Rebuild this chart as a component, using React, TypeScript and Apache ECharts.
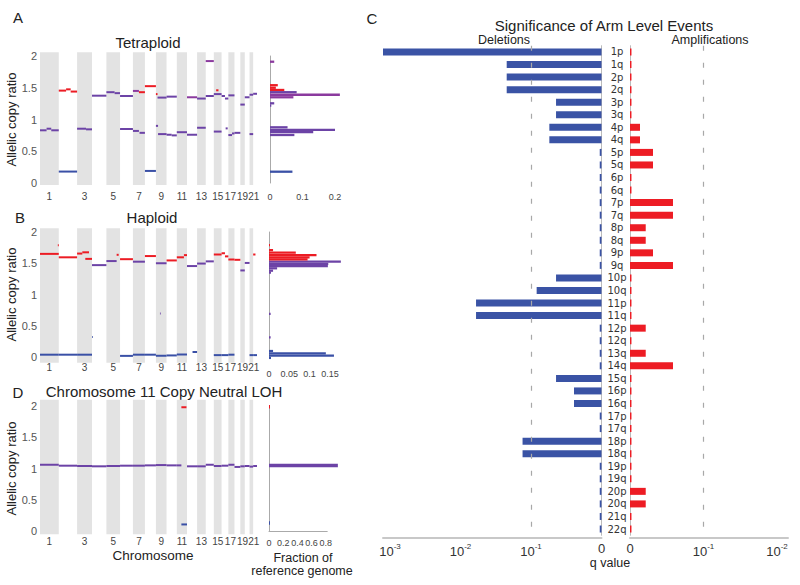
import React, { useEffect, useRef } from 'react';
import * as echarts from 'echarts';

// hg19 chromosome lengths (Mb), chromosomes 1..22
const chromLengths = [249, 243, 198, 191, 181, 171, 159, 146, 141, 136, 135, 134, 115, 107, 103, 90, 81, 78, 59, 63, 48, 51];
const chromTickLabels = ['1', '', '3', '', '5', '', '7', '', '9', '', '11', '', '13', '', '15', '', '17', '', '19', '', '21', ''];

// [chromosome, start fraction, end fraction, allelic copy ratio, allele]
type Seg = [number, number, number, number, string];
const tetraploidSegments: Seg[] = [
  [1, 0, 0.35, 0.83, 'P'], [1, 0.35, 0.6, 0.855, 'P'], [1, 0.6, 1, 0.83, 'P'],
  [2, 0, 0.4, 1.455, 'R'], [2, 0.4, 0.65, 1.475, 'R'], [2, 0.65, 1, 1.44, 'R'], [2, 0, 1, 0.18, 'B'],
  [3, 0, 0.6, 0.855, 'P'], [3, 0.6, 1, 0.845, 'P'],
  [4, 0, 1, 1.375, 'P'],
  [5, 0, 0.6, 1.43, 'P'], [5, 0.6, 1, 1.415, 'P'],
  [6, 0, 1, 1.37, 'P'], [6, 0, 1, 0.85, 'P'],
  [7, 0, 0.5, 1.45, 'M'], [7, 0.5, 1, 1.43, 'R'], [7, 0, 0.5, 0.82, 'P'], [7, 0.55, 1, 0.79, 'P'],
  [8, 0, 1, 1.525, 'R'], [8, 0, 1, 0.19, 'B'],
  [9, 0, 0.15, 1.4, 'R'], [9, 0.15, 1, 1.345, 'P'], [9, 0, 0.2, 0.9, 'P'], [9, 0.2, 1, 0.77, 'P'],
  [10, 0, 1, 1.36, 'P'], [10, 0, 0.5, 0.76, 'P'], [10, 0.5, 1, 0.75, 'P'],
  [11, 0, 1, 0.8, 'P'],
  [12, 0, 1, 1.35, 'M'], [12, 0, 1, 0.76, 'P'],
  [13, 0, 1, 1.33, 'P'], [13, 0, 1, 0.87, 'P'],
  [14, 0, 1, 1.37, 'P'], [14, 0, 1, 1.92, 'M'],
  [15, 0, 1, 1.4, 'P'], [15, 0.3, 0.6, 1.46, 'R'], [15, 0, 1, 0.81, 'P'],
  [16, 0, 0.5, 1.37, 'P'], [16, 0.5, 1, 1.33, 'P'], [16, 0.6, 0.9, 0.86, 'P'],
  [17, 0, 1, 1.38, 'P'], [17, 0, 0.6, 0.755, 'P'], [17, 0.6, 1, 0.78, 'P'],
  [18, 0, 1, 0.79, 'P'],
  [19, 0, 1, 1.235, 'P'],
  [20, 0, 1, 1.35, 'P'],
  [21, 0, 1, 1.39, 'P'], [21, 0, 1, 0.77, 'P'],
  [22, 0, 1, 1.405, 'P'],
];
const haploidSegments: Seg[] = [
  [1, 0, 1, 1.65, 'R'], [1, 0.95, 1, 1.79, 'R'], [1, 0, 1, 0.037, 'B'],
  [2, 0, 1, 1.595, 'R'], [2, 0, 1, 0.037, 'B'],
  [3, 0, 0.35, 1.655, 'R'], [3, 0.35, 0.8, 1.675, 'R'], [3, 0.55, 1, 1.57, 'R'], [3, 0, 1, 0.037, 'B'],
  [4, 0, 1, 1.47, 'P'], [4, 0, 0.05, 0.32, 'B'],
  [5, 0, 0.75, 1.535, 'P'], [5, 0.75, 0.9, 1.635, 'R'],
  [6, 0, 1, 1.565, 'R'], [6, 0, 1, 0.018, 'B'],
  [7, 0, 1, 1.525, 'P'], [7, 0, 1, 0.037, 'B'],
  [8, 0, 1, 1.615, 'R'], [8, 0, 1, 0.037, 'B'],
  [9, 0, 1, 1.5, 'P'], [9, 0.38, 0.45, 0.695, 'P'], [9, 0, 1, 0.02, 'B'],
  [10, 0, 1, 1.545, 'R'], [10, 0, 1, 0.025, 'B'],
  [11, 0, 0.7, 1.595, 'R'], [11, 0.7, 1, 1.63, 'R'], [11, 0, 1, 0.04, 'B'],
  [12, 0, 1, 1.455, 'P'], [12, 0.55, 1, 0.08, 'B'],
  [13, 0, 1, 1.495, 'P'],
  [14, 0, 1, 1.53, 'P'],
  [15, 0, 1, 1.64, 'R'], [15, 0, 1, 0.03, 'B'],
  [16, 0, 0.5, 1.66, 'R'], [16, 0.5, 1, 1.61, 'R'], [16, 0, 1, 0.03, 'B'],
  [17, 0, 1, 1.56, 'R'], [17, 0, 1, 0.037, 'B'],
  [18, 0, 1, 1.555, 'R'],
  [19, 0, 1, 1.385, 'P'],
  [20, 0, 1, 1.505, 'P'],
  [21, 0, 1, 0.03, 'B'],
  [22, 0, 0.6, 1.64, 'R'], [22, 0, 1, 0.03, 'B'],
];
const lohSegments: Seg[] = [
  [1, 0, 1, 1.06, 'P'], [2, 0, 1, 1.045, 'P'], [3, 0, 1, 1.04, 'P'], [4, 0, 1, 1.035, 'P'],
  [5, 0, 1, 1.04, 'P'], [6, 0, 1, 1.045, 'P'], [7, 0, 1, 1.045, 'P'], [8, 0, 1, 1.05, 'P'],
  [9, 0, 1, 1.055, 'P'], [10, 0, 1, 1.05, 'P'], [11, 0, 0.45, 1.05, 'P'],
  [11, 0.45, 0.95, 1.98, 'R'], [11, 0.45, 1, 0.105, 'B'],
  [12, 0, 1, 1.035, 'P'], [13, 0, 1, 1.035, 'P'], [14, 0, 1, 1.06, 'P'], [15, 0, 1, 1.04, 'P'],
  [16, 0, 1, 1.045, 'P'], [17, 0, 1, 1.06, 'P'], [18, 0, 1, 1.025, 'P'], [19, 0, 1, 1.035, 'P'],
  [20, 0, 1, 1.04, 'P'], [21, 0, 1, 1.03, 'P'], [22, 0, 1, 1.04, 'P'],
];

// [allelic copy ratio bin centre, fraction of reference genome, allele]
type Bin = [number, number, string];
const tetraploidHist: Bin[] = [
  [1.91, 0.013, 'M'], [1.54, 0.024, 'R'], [1.5, 0.018, 'R'], [1.465, 0.044, 'R'],
  [1.43, 0.082, 'P'], [1.39, 0.215, 'M'], [1.35, 0.072, 'M'], [1.255, 0.013, 'P'], [1.22, 0.004, 'P'],
  [0.877, 0.054, 'P'], [0.835, 0.2, 'P'], [0.8, 0.133, 'P'], [0.756, 0.075, 'P'], [0.178, 0.069, 'B'],
];
const haploidHist: Bin[] = [
  [1.79, 0.002, 'R'], [1.71, 0.01, 'R'], [1.67, 0.066, 'R'], [1.632, 0.117, 'R'], [1.595, 0.1, 'R'],
  [1.525, 0.177, 'P'], [1.563, 0.095, 'R'], [1.49, 0.146, 'P'], [1.456, 0.145, 'P'], [1.419, 0.02, 'P'],
  [1.381, 0.01, 'P'], [1.35, 0.005, 'P'], [0.69, 0.004, 'P'], [0.315, 0.004, 'P'],
  [0.096, 0.01, 'B'], [0.06, 0.14, 'B'], [0.022, 0.16, 'B'], [-0.015, 0.005, 'B'],
];
const lohHist: Bin[] = [[1.99, 0.004, 'R'], [1.05, 0.97, 'P'], [0.13, 0.004, 'B']];

// Panel C: -log10(q value) per chromosome arm
const arms = ['1p', '1q', '2p', '2q', '3p', '3q', '4p', '4q', '5p', '5q', '6p', '6q', '7p', '7q', '8p', '8q', '9p', '9q',
  '10p', '10q', '11p', '11q', '12p', '12q', '13q', '14q', '15q', '16p', '16q', '17p', '17q', '18p', '18q', '19p', '19q',
  '20p', '20q', '21q', '22q'];
const deletionScore = [3.1, 1.345, 1.345, 1.345, 0.645, 0.645, 0.74, 0.74, 0.025, 0.025, 0.025, 0.025, 0.025, 0.025, 0.025, 0.025, 0.025, 0.025,
  0.645, 0.92, 1.78, 1.78, 0.025, 0.025, 0.025, 0.025, 0.645, 0.39, 0.39, 0.025, 0.025, 1.12, 1.12, 0.025, 0.025,
  0.025, 0.025, 0.025, 0.025];
const amplificationScore = [0.02, 0.02, 0.02, 0.02, 0.02, 0.02, 0.136, 0.136, 0.313, 0.313, 0.02, 0.02, 0.585, 0.585, 0.214, 0.214, 0.313, 0.585,
  0.02, 0.02, 0.02, 0.02, 0.214, 0.02, 0.214, 0.585, 0.02, 0.02, 0.02, 0.02, 0.02, 0.02, 0.02, 0.02, 0.02,
  0.214, 0.214, 0.02, 0.02];

const COLORS: Record<string, string> = { R: '#ec1c24', P: '#6c43a6', M: '#8b3a9e', B: '#3a50a6' };
const FONT = 'Liberation Sans, Arial, sans-serif';
// small horizontal nudges so the crowded labels of the short chromosomes do not collide
const LABEL_NUDGE: Record<number, number> = { 16: -1, 20: 2.5 };

const offsets: number[] = [];
let acc = 0;
chromLengths.forEach((l) => { offsets.push(acc); acc += l; });
const genomeLength = acc;

function segRows(segs: Seg[]) {
  return segs.map(([c, f0, f1, v]) => [offsets[c - 1] + f0 * chromLengths[c - 1], offsets[c - 1] + f1 * chromLengths[c - 1], v]);
}

function txt(text: string, x: number, y: number, size: number, color = '#222', family = FONT) {
  return {
    type: 'text', x, y, silent: true,
    style: { text, fill: color, fontSize: size, fontFamily: family, align: 'center', verticalAlign: 'middle', textAlign: 'center', textVerticalAlign: 'middle' },
  };
}

function buildOption() {
  const panels = [
    { top: 56, height: 127, band: [2.06, -0.03], labelDy: 13, hMax: 0.215, hInt: 0.1, hHalf: 0.018, hLeft: 270, hMargin: 9, hLine: false, hOffset: 0, segs: tetraploidSegments, hist: tetraploidHist },
    { top: 232, height: 125, band: [2.06, -0.09], labelDy: 10, hMax: 0.175, hInt: 0.05, hHalf: 0.018, hLeft: 269, hMargin: 12, hLine: false, hOffset: 0, segs: haploidSegments, hist: haploidHist },
    { top: 406, height: 125, band: [2.1, -0.05], labelDy: 10, hMax: 0.82, hInt: 0.2, hHalf: 0.028, hLeft: 269, hMargin: 0, hLine: true, hOffset: 7, segs: lohSegments, hist: lohHist },
  ];
  const histScale = [325, 406, 71];

  const grid: any[] = [];
  const xAxis: any[] = [];
  const yAxis: any[] = [];
  const series: any[] = [];

  panels.forEach((p, k) => {
    const gi = grid.length;
    grid.push({ left: 40, top: p.top, width: 217, height: p.height });
    grid.push({ left: p.hLeft, top: p.top, width: histScale[k] * p.hMax, height: p.height });
    xAxis.push({ gridIndex: gi, type: 'value', min: 0, max: genomeLength, show: false });
    xAxis.push({
      gridIndex: gi + 1, type: 'value', min: 0, max: p.hMax, interval: p.hInt, offset: p.hOffset,
      axisLine: { show: p.hLine, lineStyle: { color: '#aaa', width: 1 } }, axisTick: { show: false }, splitLine: { show: false },
      axisLabel: { showMaxLabel: false, margin: p.hMargin, fontSize: 9, lineHeight: 10, color: '#444', fontFamily: FONT },
    });
    yAxis.push({
      gridIndex: gi, type: 'value', min: 0, max: 2, interval: 0.5,
      axisLine: { show: true, lineStyle: { color: '#999', width: 1 } }, axisTick: { show: false }, splitLine: { show: false },
      axisLabel: { fontSize: 11, color: '#555', margin: 3, fontFamily: FONT },
      name: 'Allelic copy ratio', nameLocation: 'middle', nameGap: 16,
      nameTextStyle: { fontSize: 13, color: '#222', fontFamily: FONT },
    });
    yAxis.push({
      gridIndex: gi + 1, type: 'value', min: 0, max: 2,
      axisLine: { show: true, lineStyle: { color: '#aaa', width: 1 } }, axisTick: { show: false }, splitLine: { show: false },
      axisLabel: { show: false },
    });

    const bandData = chromLengths.map((l, i) => [offsets[i], offsets[i] + l]);
    series.push({
      type: 'custom', xAxisIndex: gi, yAxisIndex: gi, data: bandData, silent: true, z: 1,
      renderItem: (params: any, api: any) => {
        const i = params.dataIndex;
        const s = offsets[i];
        const e = offsets[i] + chromLengths[i];
        const children: any[] = [];
        if (i % 2 === 0) {
          const p0 = api.coord([s, p.band[0]]);
          const p1 = api.coord([e, p.band[1]]);
          children.push({ type: 'rect', shape: { x: p0[0], y: p0[1], width: p1[0] - p0[0], height: p1[1] - p0[1] }, style: { fill: '#e3e3e3' } });
        }
        if (chromTickLabels[i]) {
          const b = api.coord([(s + e) / 2, 0]);
          children.push({
            type: 'text', x: b[0] + (LABEL_NUDGE[i] || 0), y: b[1] + p.labelDy,
            style: { text: chromTickLabels[i], fill: '#444', fontSize: 10, fontFamily: FONT, align: 'center', verticalAlign: 'middle', textAlign: 'center', textVerticalAlign: 'middle' },
          });
        }
        return { type: 'group', children };
      },
    });

    const rows = segRows(p.segs);
    series.push({
      type: 'custom', xAxisIndex: gi, yAxisIndex: gi, data: rows, silent: true, z: 3,
      renderItem: (params: any, api: any) => {
        const a = api.coord([api.value(0), api.value(2)]);
        const b = api.coord([api.value(1), api.value(2)]);
        return {
          type: 'line', shape: { x1: a[0], y1: a[1], x2: b[0], y2: b[1] },
          style: { stroke: COLORS[p.segs[params.dataIndex][4]], lineWidth: 2 },
        };
      },
    });

    series.push({
      type: 'custom', xAxisIndex: gi + 1, yAxisIndex: gi + 1, data: p.hist.map((h) => [h[1], h[0]]), silent: true, z: 3,
      renderItem: (params: any, api: any) => {
        const f = api.value(0);
        const v = api.value(1);
        const a = api.coord([0, v + p.hHalf]);
        const b = api.coord([f, v - p.hHalf]);
        return {
          type: 'rect', shape: { x: a[0], y: a[1], width: Math.max(1, b[0] - a[0]), height: b[1] - a[1] },
          style: { fill: COLORS[p.hist[params.dataIndex][2]] },
        };
      },
    });
  });

  // Panel C
  const cTop = 45.7;
  const cHeight = 489.6;
  const qLabel = {
    margin: 4, color: '#333', fontSize: 13, fontFamily: FONT, showMaxLabel: false,
    formatter: (v: number) => (v === 0 ? '0' : `{b|10}{s|-${Math.round(v)}}`),
    rich: {
      b: { fontSize: 13, lineHeight: 16, verticalAlign: 'bottom', color: '#333', fontFamily: FONT },
      s: { fontSize: 8, lineHeight: 9, verticalAlign: 'top', color: '#333', fontFamily: FONT },
    },
  };
  const gd = grid.length;
  grid.push({ left: 383, top: cTop, width: 218.5, height: cHeight });
  grid.push({ left: 630, top: cTop, width: 158, height: cHeight });
  xAxis.push({
    gridIndex: gd, type: 'value', inverse: true, min: 0, max: 3.1, interval: 1, offset: 2.7,
    axisLine: { show: true, lineStyle: { color: '#c8c8c8', width: 2 } }, axisTick: { show: false }, splitLine: { show: false },
    axisLabel: qLabel,
  });
  xAxis.push({
    gridIndex: gd + 1, type: 'value', min: 0, max: 2.15, interval: 1, offset: 2.7,
    axisLine: { show: true, lineStyle: { color: '#c8c8c8', width: 2 } }, axisTick: { show: false }, splitLine: { show: false },
    axisLabel: qLabel,
  });
  yAxis.push({
    gridIndex: gd, type: 'category', data: arms, inverse: true, position: 'right', offset: 3.5,
    axisLine: { show: true, lineStyle: { color: '#bbb', width: 1 } }, axisTick: { show: false },
    axisLabel: { align: 'center', margin: 12, fontSize: 10, color: '#333', fontFamily: 'DejaVu Sans', interval: 0 },
  });
  yAxis.push({
    gridIndex: gd + 1, type: 'category', data: arms, inverse: true, position: 'left', offset: 2.3,
    axisLine: { show: true, lineStyle: { color: '#bbb', width: 1 } }, axisTick: { show: false }, axisLabel: { show: false },
  });
  const dashed = (color: string) => ({
    silent: true, symbol: ['none', 'none'], label: { show: false },
    lineStyle: { color, type: [5, 12], width: 1.2 }, data: [{ xAxis: 1 }],
  });
  series.push({
    type: 'bar', xAxisIndex: gd, yAxisIndex: gd, data: deletionScore, barWidth: 7,
    itemStyle: { color: '#3a53a5' }, markLine: dashed('#a8a8a8'),
  });
  series.push({
    type: 'bar', xAxisIndex: gd + 1, yAxisIndex: gd + 1, data: amplificationScore, barWidth: 7,
    itemStyle: { color: '#ed1c24' }, markLine: dashed('#a8a8a8'),
  });

  const graphic = [
    txt('A', 18, 17, 15), txt('Tetraploid', 148, 42, 15),
    txt('B', 20, 217, 15), txt('Haploid', 152, 217, 15),
    txt('D', 18, 392, 15), txt('Chromosome 11 Copy Neutral LOH', 164, 391, 15),
    txt('Chromosome', 153, 555, 13.5),
    txt('Fraction of', 303, 558, 12.5), txt('reference genome', 302, 571, 12.5),
    txt('C', 372, 18, 15),
    txt('Significance of Arm Level Events', 604, 25, 15),
    txt('Deletions', 504, 40, 12.5), txt('Amplifications', 710, 40, 12.5),
    txt('q value', 610, 563, 12.5),
  ];

  return { animation: false, backgroundColor: '#fff', grid, xAxis, yAxis, series, graphic };
}

export default function App() {
  const ref = useRef<HTMLDivElement>(null);
  useEffect(() => {
    const chart = echarts.init(ref.current!, null, { renderer: 'svg' });
    chart.setOption(buildOption() as any);
    return () => chart.dispose();
  }, []);
  return <div ref={ref} style={{ position: 'fixed', left: 0, top: 0, width: 800, height: 585, background: '#fff' }} />;
}
